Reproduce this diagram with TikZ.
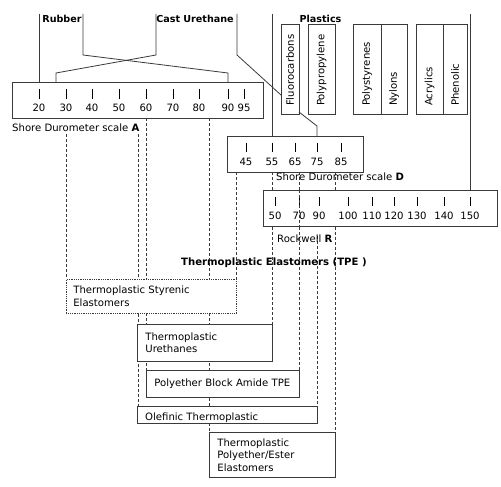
\documentclass[tikz,border=0pt]{standalone}
\usepackage{fontspec}
\setmainfont{DejaVu Sans}
\definecolor{lc}{HTML}{3A3A3A}
\begin{document}
\begin{tikzpicture}[x=1pt,y=-1pt,
  font=\fontsize{10.1}{12.5}\selectfont,
  ln/.style={draw=lc, line width=0.8pt},
  dsh/.style={draw=lc, line width=0.7pt, dash pattern=on 3pt off 2pt},
  tck/.style={draw=black, line width=0.8pt},
  num/.style={inner sep=0pt, anchor=center},
  scalebox/.style={draw=lc, fill=white, line width=0.8pt, inner sep=0pt, anchor=north west},
  pbox/.style={draw=lc, fill=white, line width=0.8pt, rotate=90, minimum width=90pt,
     inner xsep=8pt, inner ysep=0pt, align=left, text width=74pt},
  tbox/.style={draw=lc, fill=white, line width=0.8pt, anchor=north west, align=left, inner ysep=0pt},
  cat/.style={font=\fontsize{9.6}{12.5}\selectfont\bfseries, inner sep=0pt},
  lbl/.style={inner sep=0pt, anchor=west}]
\useasboundingbox (0,0) rectangle (501,487);

% ---------- dashed guides (behind boxes)
\draw[dsh] (66,134) -- (66,279);
\draw[dsh] (138,134) -- (138,406);
\draw[dsh] (146,118) -- (146,370);
\draw[dsh] (209,118) -- (209,432);
\draw[dsh] (236,172) -- (236,279);
\draw[dsh] (272,172) -- (272,324);
\draw[dsh] (299,172) -- (299,370);
\draw[dsh] (317,236) -- (317,406);
\draw[dsh] (335,172) -- (335,432);

% ---------- category labels
\node[cat] (rub) at (62,19) {Rubber};
\node[cat] (cast) at (195,19) {Cast Urethane};
\node[cat] (plas) at (320.5,19) {Plastics};

% ---------- plastics boxes
\node[pbox, minimum height=18pt] (fluo) at (290,69) {Fluorocarbons};
\node[pbox, minimum height=27pt] (pp) at (321.5,69) {Polypropylene};
\node[pbox, minimum height=28pt] (ps) at (367,69) {Polystyrenes};
\node[pbox, minimum height=26pt] (ny) at (394,69) {Nylons};
\node[pbox, minimum height=27pt] (ac) at (429.5,69) {Acrylics};
\node[pbox, minimum height=24pt] (ph) at (455,69) {Phenolic};

% ---------- Shore A scale
\node[scalebox, minimum width=251pt, minimum height=36pt] (A) at (12,82) {};
\foreach \v/\x in {20/39,30/66,40/92,50/119,60/146,70/173,80/199,90/228,95/244}{
  \draw[tck] (\x,89) -- (\x,99);
  \node[num] at (\x,108) {\v};
}
\node[lbl] (Alab) at (12,128) {Shore Durometer scale \textbf{A}};

% ---------- Shore D scale
\node[scalebox, minimum width=136pt, minimum height=36pt] (D) at (227,136) {};
\foreach \v/\x in {45/246,55/272,65/295,75/317,85/341}{
  \draw[tck] (\x,143) -- (\x,152);
  \node[num] at (\x,161.5) {\v};
}
\node[lbl] (Dlab) at (276,177) {Shore Durometer scale \textbf{D}};

% ---------- Rockwell R scale
\node[scalebox, minimum width=234pt, minimum height=36pt] (R) at (263,190) {};
\foreach \v/\x in {50/275,70/299,90/319,100/348,110/372,120/394,130/417,140/444,150/470}{
  \draw[tck] (\x,197) -- (\x,206);
  \node[num] at (\x,215.5) {\v};
}
\draw[dsh] (299,190) -- (299,226);
\node[lbl] (Rlab) at (277,239) {Rockwell \textbf{R}};

% ---------- connectors from categories
\coordinate (c1) at (39,14);
\coordinate (c2) at (83,14);
\coordinate (c3) at (156,14);
\coordinate (c4) at (237,14);
\coordinate (c5) at (272,14);
\coordinate (c6) at (470,14);
\coordinate (fin) at (281,95);
\coordinate (fout) at (299,112);
\draw[ln] (c1) -- (c1 |- A.north);
\draw[ln] (c2) -- (83,55) -- (228,73) -- (228,82);
\draw[ln] (c3) -- (156,55) -- (56,73) -- (56,82);
\draw[ln] (c4) -- (237,55) -- (fin);
\draw[ln] (c5) -- (c5 |- D.north);
\draw[ln] (fout) -- (317,126) -- (317,136);
\draw[ln] (c6) -- (c6 |- R.north);

% ---------- TPE title
\node[cat, font=\fontsize{10.1}{12.5}\selectfont\bfseries, anchor=west] (tpe) at (181,263) {Thermoplastic Elastomers (TPE )};

% ---------- TPE boxes
\node[tbox, draw=lc, densely dotted, line width=0.7pt, minimum width=170pt, minimum height=34pt,
      text width=156pt, inner xsep=7pt] (sty) at (66,279) {Thermoplastic Styrenic\\Elastomers};
\node[tbox, minimum width=135pt, minimum height=37pt, text width=119pt, inner xsep=8pt] (ure) at (137,324) {Thermoplastic\\Urethanes};
\node[tbox, minimum width=153pt, minimum height=27pt, text width=137pt, inner xsep=8pt] (peba) at (146,370) {Polyether Block Amide TPE};
\node[tbox, minimum width=180pt, minimum height=17pt, inner sep=0pt] (ole) at (137,406) {};
\begin{scope}
  \clip (ole.north west) rectangle (ole.south east);
  \node[anchor=base west, inner sep=0pt] (oletxt) at (145,420.5) {Olefinic Thermoplastic};
\end{scope}
\node[tbox, minimum width=126pt, minimum height=45pt, text width=110pt, inner xsep=8pt] (pes) at (209,432) {Thermoplastic\\Polyether/Ester\\Elastomers};
\end{tikzpicture}
\end{document}
